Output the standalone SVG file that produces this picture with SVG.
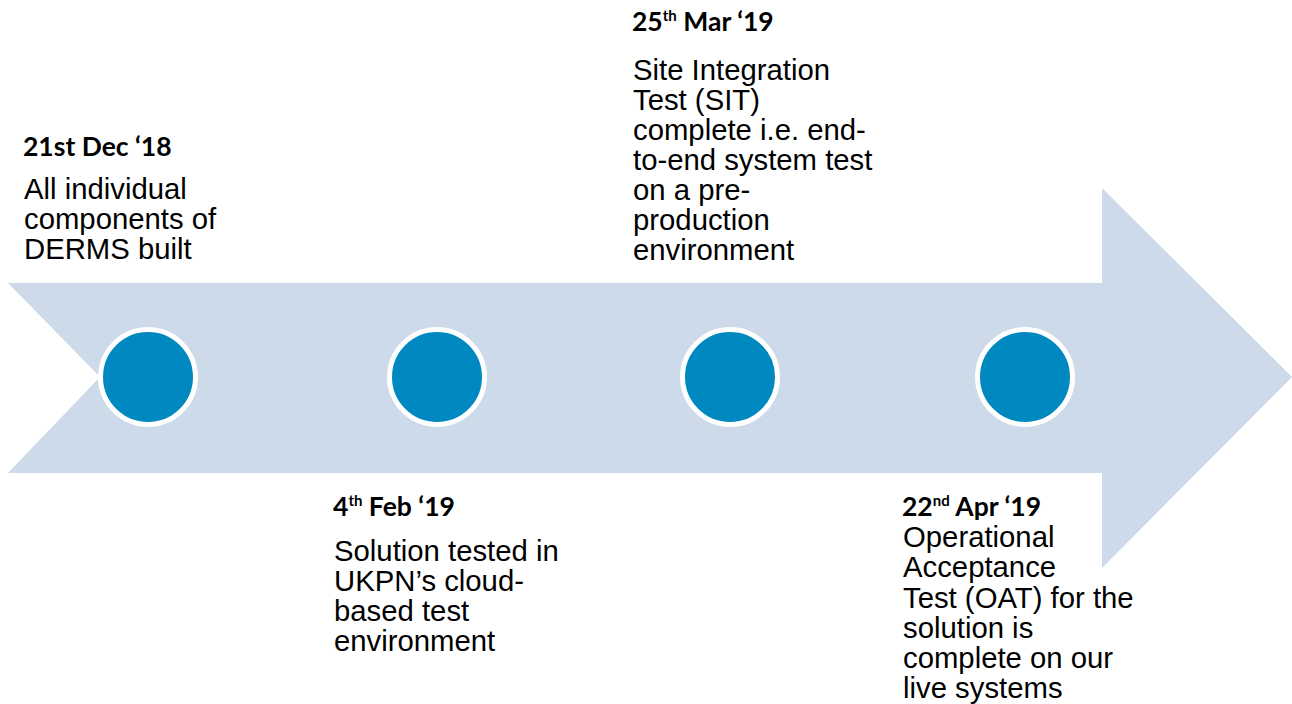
<svg xmlns="http://www.w3.org/2000/svg" width="1292" height="704" viewBox="0 0 1292 704">
<style>
.date{font-family:Lato,"Open Sans",sans-serif;font-weight:bold;font-size:26.5px;fill:#000}
.sup{font-size:15px}
.body{font-family:"Liberation Sans",Arial,sans-serif;font-size:29.3px;fill:#000}
.dot{fill:#0088C0;stroke:#fff;stroke-width:5}
</style>
<rect width="1292" height="704" fill="#fff"/>
<g id="arrow">
<polygon points="8,283 1102,283 1102,188 1292,377 1102,568 1102,473 8,473 100,377" fill="#CCDAE9"/>
</g>
<g id="connectors"></g>
<g id="m1">
<circle class="dot" cx="148" cy="377" r="47.5"/>
<text class="date" x="23" y="156">21st Dec ‘18</text>
<text class="body"><tspan x="24" y="199">All individual</tspan><tspan x="24" y="229">components of</tspan><tspan x="24" y="259">DERMS built</tspan></text>
</g>
<g id="m2">
<circle class="dot" cx="437" cy="377" r="47.5"/>
<text class="date" x="333" y="516">4<tspan class="sup" dy="-10">th</tspan><tspan dy="10"> Feb ‘19</tspan></text>
<text class="body"><tspan x="334" y="561">Solution tested in</tspan><tspan x="334" y="591">UKPN’s cloud-</tspan><tspan x="334" y="621">based test</tspan><tspan x="334" y="651">environment</tspan></text>
</g>
<g id="m3">
<circle class="dot" cx="730" cy="377" r="47.5"/>
<text class="date" x="632" y="31">25<tspan class="sup" dy="-10">th</tspan><tspan dy="10"> Mar ‘19</tspan></text>
<text class="body"><tspan x="633" y="80">Site Integration</tspan><tspan x="633" y="110">Test (SIT)</tspan><tspan x="633" y="140">complete i.e. end-</tspan><tspan x="633" y="170">to-end system test</tspan><tspan x="633" y="200">on a pre-</tspan><tspan x="633" y="230">production</tspan><tspan x="633" y="260">environment</tspan></text>
</g>
<g id="m4">
<circle class="dot" cx="1025" cy="377" r="47.5"/>
<text class="date" x="902" y="516">22<tspan class="sup" dy="-10">nd</tspan><tspan dy="10"> Apr ‘19</tspan></text>
<text class="body"><tspan x="903" y="547">Operational</tspan><tspan x="903" y="577">Acceptance</tspan><tspan x="903" y="608">Test (OAT) for the</tspan><tspan x="903" y="638">solution is</tspan><tspan x="903" y="668">complete on our</tspan><tspan x="903" y="698">live systems</tspan></text>
</g>
</svg>
